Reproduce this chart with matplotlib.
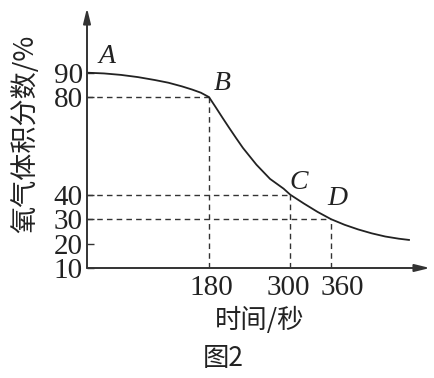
import matplotlib.pyplot as plt
from matplotlib.transforms import ScaledTranslation

# curve (time in s, O2 volume fraction in %)
t_pts = [0, 25, 50, 75, 100, 120, 140, 155, 168, 180, 190, 200, 210, 220, 230, 250, 270,
         290, 300, 320, 340, 360, 380, 400, 420, 440, 460, 475]
o2_pts = [90, 89.7, 89.1, 88.2, 87.0, 85.9, 84.4, 83.1, 81.8, 80.0, 75.8, 71.5, 67.3, 63.2,
          59.2, 52.3, 46.5, 42.5, 40, 36.4, 33.0, 30, 27.7, 25.8, 24.2, 22.9, 22.0, 21.5]

mark_names = ["A", "B", "C", "D"]
mark_t = [0, 180, 300, 360]
mark_o2 = [90, 80, 40, 30]

y_ticks = [10, 20, 30, 40, 80, 90]
x_ticks = [180, 300, 360]

serif = "Liberation Serif"
cjk = ["Noto Sans CJK SC", "DejaVu Sans"]

fig = plt.figure(figsize=(4.34, 3.78), dpi=100)
ax = fig.add_axes([87 / 434, 1 - 268 / 378, (430 - 87) / 434, (268 - 8) / 378])
ax.set_xlim(0, 506)
ax.set_ylim(10, 116.5)

for s in ax.spines.values():
    s.set_visible(False)

# axes with arrows
for end in [(0, 1), (1, 0)]:
    ax.annotate("", xy=end, xytext=(0, 0), xycoords="axes fraction",
                arrowprops=dict(arrowstyle="-|>,head_length=0.9,head_width=0.22",
                                color="#333333", lw=1.4, shrinkA=0, shrinkB=0))

# dashed guides
for t, v in zip(mark_t[1:], mark_o2[1:]):
    ax.plot([0, t], [v, v], ls=(0, (4, 3)), color="#333333", lw=1.0)
    ax.plot([t, t], [10, v], ls=(0, (4, 3)), color="#333333", lw=1.0)

ax.plot(t_pts, o2_pts, color="#222222", lw=1.3)

# label positions (data coords)
label_t = [29, 199, 313, 370]
label_o2 = [96.5, 85.4, 45.2, 38.3]
for name, t, v in zip(mark_names, label_t, label_o2):
    ax.text(t, v, name, fontsize=20, family=serif, style="italic",
            ha="center", va="center", color="#222222")

ax.set_yticks(y_ticks)
ax.set_yticklabels([str(v) for v in y_ticks], family=serif, fontsize=21, color="#222222")
ax.set_xticks(x_ticks)
ax.set_xticklabels([str(v) for v in x_ticks], family=serif, fontsize=21, color="#222222")
ax.tick_params(axis="y", direction="in", length=5, width=1.0, pad=3, color="#333333")
ax.tick_params(axis="x", length=0, pad=5)

# nudge 300 / 360 apart like in the original
for lab, dx in zip(ax.get_xticklabels(), [2, -2, 11]):
    lab.set_transform(lab.get_transform() + ScaledTranslation(dx / 100, 0, fig.dpi_scale_trans))

fig.text(25 / 434, 1 - 134 / 378, "氧气体积分数/%", rotation=90, fontsize=19.5,
         family=cjk, ha="center", va="center", color="#222222")
fig.text(260 / 434, 1 - 320 / 378, "时间/秒", fontsize=19, family=cjk,
         ha="center", va="center", color="#222222")
fig.text(223 / 434, 1 - 358 / 378, "图2", fontsize=19, family=cjk,
         ha="center", va="center", color="#222222")

fig.savefig("out.png", dpi=100)
